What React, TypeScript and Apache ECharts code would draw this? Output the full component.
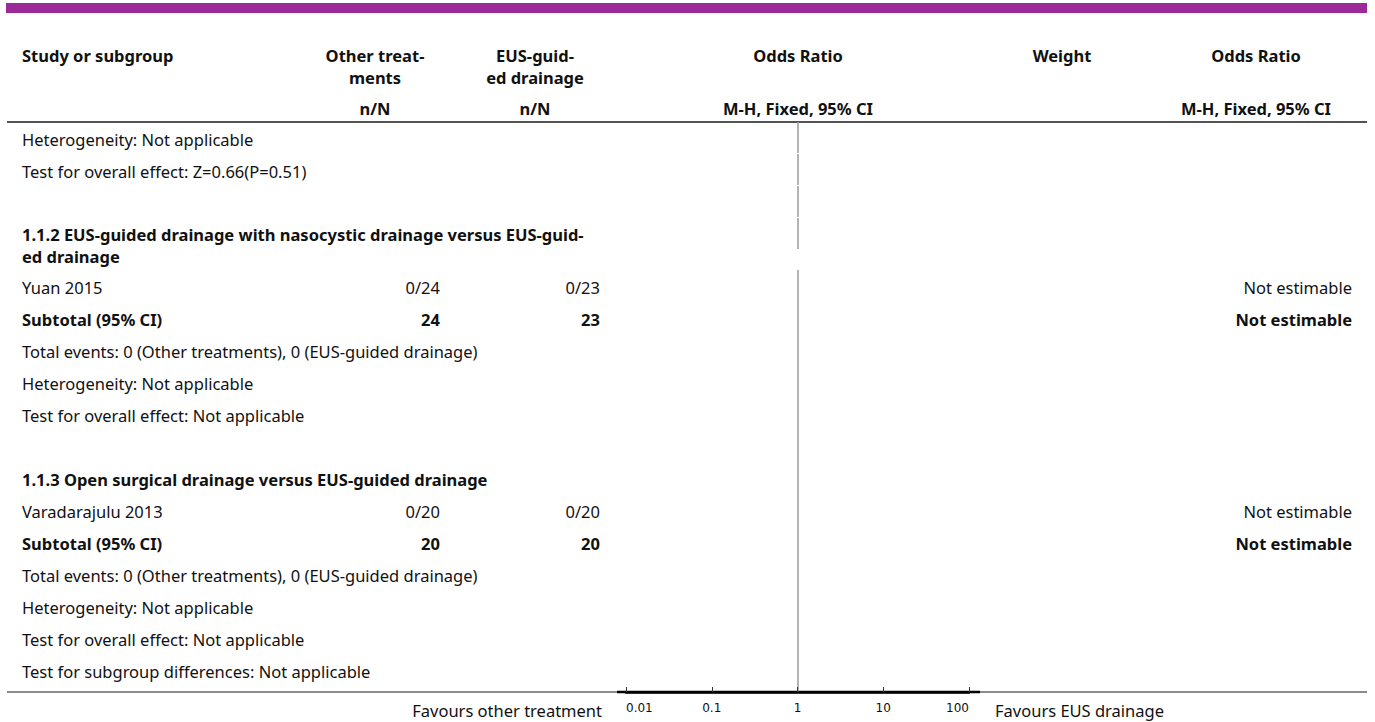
import React, { useEffect, useRef } from "react";
import * as echarts from "echarts";

// ---- Table content ---------------------------------------------------------
const headStudy = "Study or subgroup";
const headOther = ["Other treat-", "ments"];
const headEus = ["EUS-guid-", "ed drainage"];
const headOddsRatio = "Odds Ratio";
const headWeight = "Weight";
const subHeadCounts = "n/N";
const subHeadMethod = "M-H, Fixed, 95% CI";

// tail of subgroup 1.1.1, continued from the previous page
const carriedNotes = [
  "Heterogeneity: Not applicable",
  "Test for overall effect: Z=0.66(P=0.51)",
];

const subgroupTitles = [
  ["1.1.2 EUS-guided drainage with nasocystic drainage versus EUS-guid-", "ed drainage"],
  ["1.1.3 Open surgical drainage versus EUS-guided drainage"],
];
const studyNames = ["Yuan 2015", "Varadarajulu 2013"];
const otherEvents = [0, 0];
const otherTotals = [24, 20];
const eusEvents = [0, 0];
const eusTotals = [23, 20];
const studyEffects = ["Not estimable", "Not estimable"];
const subtotalEffects = ["Not estimable", "Not estimable"];
const totalEventNotes = [
  "Total events: 0 (Other treatments), 0 (EUS-guided drainage)",
  "Total events: 0 (Other treatments), 0 (EUS-guided drainage)",
];
const heterogeneityNotes = ["Heterogeneity: Not applicable", "Heterogeneity: Not applicable"];
const overallEffectNotes = [
  "Test for overall effect: Not applicable",
  "Test for overall effect: Not applicable",
];
const subgroupDifferenceNote = "Test for subgroup differences: Not applicable";

// ---- Forest axis -----------------------------------------------------------
const axisMin = 0.01;
const axisMax = 100;
const nullEffect = 1;
const favoursLeft = "Favours other treatment";
const favoursRight = "Favours EUS drainage";

// ---- Layout ---------------------------------------------------------------
const W = 1375;
const H = 722;
const FONT = "'Noto Sans', Roboto, sans-serif";
const FONT_SIZE = 16.5;
const TEXT_BOX_H = 19;
const TICK_FONT = "'DejaVu Sans', sans-serif";
const PLOT_LEFT = 626;
const PLOT_RIGHT = 969;
const TABLE_TOP = 122;
const AXIS_Y = 692;
const ROW_H = 32;
const WRAP_H = 20;
const LINE_H = 22;
const TEXT_OFF = 17.5;
const X_STUDY = 22;
const X_OTHER_C = 375;
const X_OTHER_R = 440;
const X_EUS_C = 535;
const X_EUS_R = 600;
const X_OR_C = 798;
const X_WEIGHT_C = 1062;
const X_OR2_C = 1256;
const X_RIGHT = 1352;
const RULE_L = 7;
const RULE_R = 1367;

type Row = {
  lines: string[];
  bold?: boolean;
  other?: string;
  eus?: string;
  effect?: string;
  split?: boolean; // null line drawn as its own short segment
};

function buildRows(): Row[] {
  const rows: Row[] = [];
  carriedNotes.forEach((t) => rows.push({ lines: [t], split: true }));
  rows.push({ lines: [], split: true });
  subgroupTitles.forEach((title, i) => {
    if (i > 0) rows.push({ lines: [] });
    rows.push({ lines: title, bold: true, split: i === 0 });
    rows.push({
      lines: [studyNames[i]],
      other: `${otherEvents[i]}/${otherTotals[i]}`,
      eus: `${eusEvents[i]}/${eusTotals[i]}`,
      effect: studyEffects[i],
    });
    rows.push({
      lines: ["Subtotal (95% CI)"],
      bold: true,
      other: String(otherTotals[i]),
      eus: String(eusTotals[i]),
      effect: subtotalEffects[i],
    });
    rows.push({ lines: [totalEventNotes[i]] });
    rows.push({ lines: [heterogeneityNotes[i]] });
    rows.push({ lines: [overallEffectNotes[i]] });
  });
  rows.push({ lines: [subgroupDifferenceNote] });
  return rows;
}

function txt(
  text: string,
  x: number,
  y: number,
  opts: { bold?: boolean; align?: string; size?: number; family?: string; vAlign?: string } = {}
) {
  return {
    type: "text",
    silent: true,
    style: {
      text,
      x,
      y,
      fill: "#111",
      fontFamily: opts.family || FONT,
      fontSize: opts.size || FONT_SIZE,
      fontWeight: opts.bold ? "bold" : "normal",
      lineHeight: TEXT_BOX_H,
      align: opts.align || "left",
      verticalAlign: opts.vAlign || "middle",
    },
  };
}

function buildOption() {
  const rows = buildRows();
  const graphics: any[] = [];
  const segments: number[][] = [];

  // top banner
  graphics.push({ type: "rect", silent: true, shape: { x: 6, y: 3, width: 1361, height: 10 }, style: { fill: "#9c2a98" } });

  // column headings
  graphics.push(txt(headStudy, X_STUDY, 55, { bold: true }));
  headOther.forEach((t, i) => graphics.push(txt(t, X_OTHER_C, 55 + 22 * i, { bold: true, align: "center" })));
  headEus.forEach((t, i) => graphics.push(txt(t, X_EUS_C, 55 + 22 * i, { bold: true, align: "center" })));
  graphics.push(txt(headOddsRatio, X_OR_C, 55, { bold: true, align: "center" }));
  graphics.push(txt(headWeight, X_WEIGHT_C, 55, { bold: true, align: "center" }));
  graphics.push(txt(headOddsRatio, X_OR2_C, 55, { bold: true, align: "center" }));
  graphics.push(txt(subHeadCounts, X_OTHER_C, 108, { bold: true, align: "center" }));
  graphics.push(txt(subHeadCounts, X_EUS_C, 108, { bold: true, align: "center" }));
  graphics.push(txt(subHeadMethod, X_OR_C, 108, { bold: true, align: "center" }));
  graphics.push(txt(subHeadMethod, X_OR2_C, 108, { bold: true, align: "center" }));

  // rules
  graphics.push({ type: "line", silent: true, shape: { x1: RULE_L, y1: TABLE_TOP, x2: RULE_R, y2: TABLE_TOP }, style: { stroke: "#1a1a1a", lineWidth: 1.5 } });
  graphics.push({ type: "line", silent: true, shape: { x1: RULE_L, y1: AXIS_Y, x2: RULE_R, y2: AXIS_Y }, style: { stroke: "#1a1a1a", lineWidth: 1.2 } });
  // the heavy axis rule runs a few pixels past the end ticks
  graphics.push({ type: "line", silent: true, shape: { x1: PLOT_LEFT - 9, y1: AXIS_Y, x2: PLOT_RIGHT + 11, y2: AXIS_Y }, style: { stroke: "#000", lineWidth: 2.5 } });

  // body rows
  let top = 0;
  let openSeg: number | null = null;
  rows.forEach((r) => {
    const cy = TABLE_TOP + top + TEXT_OFF;
    const lead = r.lines.length > 1 ? -1 : 0; // wrapped titles sit a touch higher
    r.lines.forEach((line, li) => {
      graphics.push(txt(line, X_STUDY, cy + lead + li * LINE_H, { bold: r.bold }));
    });
    if (r.other) graphics.push(txt(r.other, X_OTHER_R, cy, { bold: r.bold, align: "right" }));
    if (r.eus) graphics.push(txt(r.eus, X_EUS_R, cy, { bold: r.bold, align: "right" }));
    if (r.effect) graphics.push(txt(r.effect, X_RIGHT, cy, { bold: r.bold, align: "right" }));

    if (r.split) {
      segments.push([top, top + ROW_H - 1]);
    } else if (openSeg === null) {
      openSeg = top;
    }
    top += ROW_H;
    if (r.lines.length > 1) top += WRAP_H * (r.lines.length - 1);
  });
  const yMax = AXIS_Y - TABLE_TOP;
  if (openSeg !== null) segments.push([openSeg, yMax]);

  // favours labels
  graphics.push(txt(favoursLeft, 602, 710, { align: "right" }));
  graphics.push(txt(favoursRight, 995, 710, { align: "left" }));

  return {
    animation: false,
    backgroundColor: "#ffffff",
    grid: {
      left: PLOT_LEFT,
      right: W - PLOT_RIGHT,
      top: TABLE_TOP,
      bottom: H - AXIS_Y,
      containLabel: false,
    },
    xAxis: {
      type: "log",
      logBase: 10,
      min: axisMin,
      max: axisMax,
      position: "bottom",
      z: 5,
      axisLine: { show: true, onZero: false, lineStyle: { color: "#000", width: 2.5 } },
      axisTick: { show: true, inside: true, length: 5, lineStyle: { color: "#333", width: 1 } },
      axisLabel: {
        show: true,
        margin: 10,
        color: "#111",
        fontFamily: TICK_FONT,
        fontSize: 12,
        alignMinLabel: "left",
        alignMaxLabel: "right",
        formatter: (v: number) => String(v),
      },
      splitLine: { show: false },
      minorTick: { show: false },
    },
    yAxis: {
      type: "value",
      min: 0,
      max: yMax,
      inverse: true,
      show: false,
    },
    series: [
      {
        type: "lines",
        coordinateSystem: "cartesian2d",
        silent: true,
        lineStyle: { color: "#a0a0a0", width: 1.6, opacity: 1 },
        data: segments.map(([a, b]) => ({ coords: [[nullEffect, a], [nullEffect, b]] })),
      },
    ],
    graphic: graphics,
  };
}

export default function App() {
  const ref = useRef<HTMLDivElement>(null);
  useEffect(() => {
    if (!ref.current) return;
    const chart = echarts.init(ref.current, undefined, { renderer: "svg" });
    chart.setOption(buildOption() as any);
    return () => chart.dispose();
  }, []);
  return (
    <div
      ref={ref}
      style={{ position: "fixed", left: 0, top: 0, width: W, height: H, background: "#fff" }}
    />
  );
}
